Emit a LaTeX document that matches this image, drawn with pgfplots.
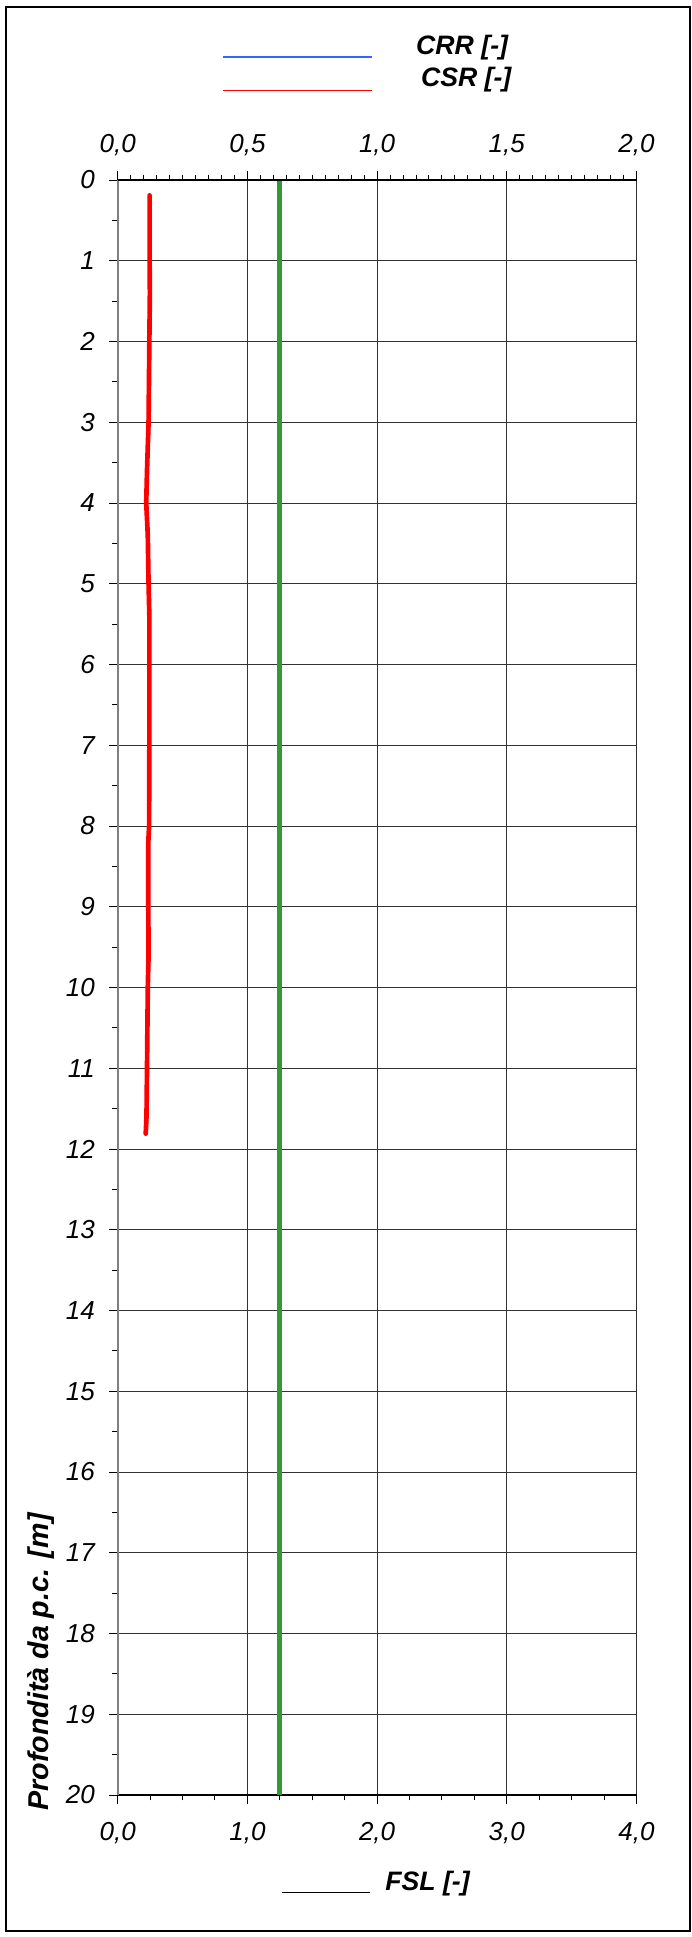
\documentclass[border=0pt]{standalone}
\usepackage{pgfplots}
\pgfplotsset{compat=1.18}
\usepackage{fontspec}
\setmainfont{Liberation Sans}
\definecolor{fslgreen}{RGB}{51,153,51}
\definecolor{crrblue}{RGB}{51,102,255}
\pgfplotsset{
  commonstyle/.style={
    at={(0pt,0pt)}, anchor=north west, scale only axis,
    width=389.1pt, height=1211.25pt,
    ymin=0, ymax=20, y dir=reverse,
    tick align=outside, major tick length=6.5pt, minor tick length=4pt,
    every tick/.style={black, line width=0.75pt},
    x axis line style={black, line width=0.9pt},
    tick label style={font=\fontsize{19.5}{22}\selectfont\itshape},
    /pgf/number format/assume math mode=true,
    xticklabel style={/pgf/number format/fixed, /pgf/number format/fixed zerofill,
      /pgf/number format/precision=1, /pgf/number format/use comma},
  }
}
\begin{document}
\begin{tikzpicture}
\useasboundingbox (-88.275pt,135pt) rectangle (430.0pt,-1317.75pt);
\fill[white] (-88.275pt,135pt) rectangle (430.0pt,-1317.75pt);
\draw[line width=1.5pt] (-83.4pt,129.4pt) rectangle (428.85pt,-1313.25pt);

% Bottom axis: FSL
\begin{axis}[commonstyle,
  xmin=0, xmax=4,
  axis x line*=bottom, axis y line*=left,
  xtick={0,1,2,3,4}, minor x tick num=3,
  ytick={0,1,...,20}, minor y tick num=1,
  grid=major, major grid style={black!80, line width=0.75pt},
  y axis line style={gray, line width=1.6pt},
  xticklabel style={anchor=base, inner sep=0pt, yshift=-27.5pt},
  yticklabel style={anchor=east, inner sep=0pt, xshift=-10.5pt},
]
\addplot[fslgreen, line width=3.5pt] coordinates {(1.25,0) (1.25,20)};
\end{axis}

% Top axis: CRR / CSR
\begin{axis}[commonstyle,
  xmin=0, xmax=2,
  axis x line*=top, axis y line=none, ytick=\empty,
  xtick={0,0.5,1,1.5,2}, minor x tick num=9,
  xticklabel style={anchor=base, inner sep=0pt, yshift=14.5pt},
]
\addplot[red, line width=3.5pt, line cap=round, line join=round] coordinates {
(0.123,0.19) (0.123,1.0) (0.124,1.4) (0.122,2.0) (0.119,3.0) (0.113,3.6)
(0.110,4.0) (0.116,4.4) (0.119,5.0) (0.122,5.4) (0.122,6.0) (0.122,7.0)
(0.121,8.0) (0.118,8.2) (0.118,9.0) (0.119,9.6) (0.116,10.0) (0.113,11.0)
(0.111,11.6) (0.108,11.81)};
\end{axis}

% legend
\draw[crrblue, line width=1.1pt] (78.7pt,92.25pt) -- (190.35pt,92.25pt);
\draw[red, line width=1.1pt] (78.7pt,67.1pt) -- (190.35pt,67.1pt);
\node[anchor=base west, inner sep=0pt, font=\fontsize{20}{24}\selectfont\bfseries\itshape] at (223.7pt,93.75pt) {CRR [-]};
\node[anchor=base west, inner sep=0pt, font=\fontsize{20}{24}\selectfont\bfseries\itshape] at (227.3pt,70pt) {CSR [-]};

% x label
\draw[line width=1pt] (123pt,-1284.5pt) -- (189.2pt,-1284.5pt);
\node[anchor=base west, inner sep=0pt, font=\fontsize{20}{24}\selectfont\bfseries\itshape] at (200.5pt,-1282.5pt) {FSL [-]};

% y label
\node[rotate=90, anchor=base west, inner sep=0pt, font=\fontsize{21.5}{25}\selectfont\bfseries\itshape] at (-51.9pt,-1223.25pt) {Profondità da p.c. [m]};
\end{tikzpicture}
\end{document}
